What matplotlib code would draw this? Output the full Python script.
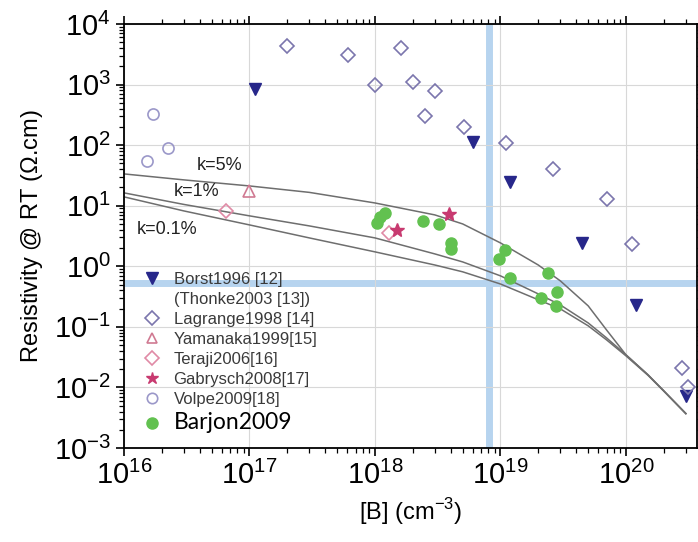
import numpy as np
import matplotlib
matplotlib.use('Agg')
import matplotlib.pyplot as plt
from matplotlib.lines import Line2D

plt.rcParams['font.family'] = ['Liberation Sans', 'DejaVu Sans']
plt.rcParams['mathtext.fontset'] = 'custom'
plt.rcParams['mathtext.rm'] = 'Liberation Sans'

# ── data ──────────────────────────────────────────────────────────
borst_x = [1.1e17, 6.0e18, 1.2e19, 4.5e19, 1.2e20, 3.0e20]
borst_y = [850, 113, 25, 2.4, 0.23, 0.0072]

lagrange_x = [2.0e17, 6.1e17, 1.0e18, 1.6e18, 2.0e18, 2.5e18, 3.0e18, 5.1e18,
              1.1e19, 2.6e19, 7.1e19, 1.12e20, 2.8e20, 3.1e20]
lagrange_y = [4400, 3100, 980, 4000, 1100, 300, 780, 200,
              109, 40, 13, 2.35, 0.021, 0.0102]

yamanaka_x = [9.9e16]
yamanaka_y = [17.5]

teraji_x = [6.5e16, 1.30e18]
teraji_y = [8.2, 3.5]

gabrysch_x = [1.51e18, 3.9e18]
gabrysch_y = [3.9, 7.3]

volpe_x = [1.52e16, 1.7e16, 2.24e16]
volpe_y = [55, 327, 90]

barjon_x = [1.03e18, 1.10e18, 1.20e18, 2.40e18, 3.25e18, 4.0e18, 4.0e18,
            1.09e19, 9.8e18, 1.19e19, 2.40e19, 2.81e19, 2.09e19, 2.75e19]
barjon_y = [5.1, 6.6, 7.7, 5.5, 4.95, 2.46, 1.91,
            1.87, 1.31, 0.64, 0.77, 0.38, 0.30, 0.22]

# model curves
curve_x = [1e16, 3e16, 1e17, 3e17, 1e18, 3e18, 5e18, 1e19, 2e19, 3e19,
           5e19, 7e19, 1e20, 1.5e20, 2e20, 3e20]
k5_y = [33.5, 26.7, 21.2, 16.6, 11.1, 7.05, 5.0, 2.43, 1.05, 0.574,
        0.222, 0.089, 0.0345, 0.0161, 0.00879, 0.0037]
k1_y = [16.3, 10.5, 6.8, 4.64, 2.94, 1.60, 1.18, 0.695, 0.35, 0.23,
        0.116, 0.0658, 0.0345, 0.0161, 0.00879, 0.0037]
k01_y = [14.0, 8.2, 4.82, 2.94, 1.73, 1.05, 0.81, 0.51, 0.28, 0.198,
         0.104, 0.061, 0.0332, 0.0158, 0.0087, 0.0037]

band_x = 8.1e18
band_y = 0.53

# ── figure ────────────────────────────────────────────────────────
fig = plt.figure(figsize=(6.98, 5.42), dpi=100)
ax = fig.add_axes([124 / 698, 94 / 542, 573 / 698, 424 / 542])
ax.set_xscale('log')
ax.set_yscale('log')
ax.set_xlim(1e16, 10 ** 20.566)
ax.set_ylim(1e-3, 1e4)

ax.grid(True, which='major', color='#d8d8d8', lw=0.8, zorder=0)
ax.axvline(band_x, color='#b7d4ef', lw=5, zorder=1)
ax.axhline(band_y, color='#b7d4ef', lw=5, zorder=1)

for cy in (k5_y, k1_y, k01_y):
    ax.plot(curve_x, cy, '-', color='#6e6e6e', lw=1.1, zorder=2)

ax.text(5.8e16, 47, 'k=5%', fontsize=13, ha='center', va='center', color='#222222')
ax.text(3.8e16, 16.9, 'k=1%', fontsize=13, ha='center', va='center', color='#222222')
ax.text(2.2e16, 4.1, 'k=0.1%', fontsize=13, ha='center', va='center', color='#222222')

ax.plot(borst_x, borst_y, 'v', color='#27278a', ms=8, ls='none', zorder=4)
ax.plot(lagrange_x, lagrange_y, 'D', mfc='none', mec='#7b76ad', mew=1.2, ms=7.5,
        ls='none', zorder=4)
ax.plot(yamanaka_x, yamanaka_y, '^', mfc='none', mec='#d07a92', mew=1.2, ms=8,
        ls='none', zorder=4)
ax.plot(teraji_x, teraji_y, 'D', mfc='none', mec='#e08aa6', mew=1.2, ms=7.5,
        ls='none', zorder=4)
ax.plot(gabrysch_x, gabrysch_y, '*', color='#c83a70', ms=10, ls='none', zorder=5)
ax.plot(volpe_x, volpe_y, 'o', mfc='none', mec='#9b98c9', mew=1.2, ms=8,
        ls='none', zorder=4)
ax.plot(barjon_x, barjon_y, 'o', color='#62c150', ms=8, ls='none', zorder=5)

# legend
handles = [
    Line2D([], [], marker='v', color='#27278a', ms=8, ls='none'),
    Line2D([], [], marker='', ls='none'),
    Line2D([], [], marker='D', mfc='none', mec='#7b76ad', mew=1.2, ms=7, ls='none'),
    Line2D([], [], marker='^', mfc='none', mec='#d07a92', mew=1.2, ms=7.5, ls='none'),
    Line2D([], [], marker='D', mfc='none', mec='#e08aa6', mew=1.2, ms=7, ls='none'),
    Line2D([], [], marker='*', color='#c83a70', ms=9, ls='none'),
    Line2D([], [], marker='o', mfc='none', mec='#9b98c9', mew=1.2, ms=7.5, ls='none'),
    Line2D([], [], marker='o', color='#62c150', ms=8, ls='none'),
]
labels = ['Borst1996 [12]', '(Thonke2003 [13])', 'Lagrange1998 [14]',
          'Yamanaka1999[15]', 'Teraji2006[16]', 'Gabrysch2008[17]',
          'Volpe2009[18]', 'Barjon2009']
leg = ax.legend(handles, labels, loc='upper left', bbox_to_anchor=(0.005, 0.442),
                frameon=False, fontsize=12, labelspacing=0.3,
                handletextpad=0.5, handlelength=1.6, borderaxespad=0.3)
for t in leg.get_texts()[:-1]:
    t.set_color('#3a3a3a')
leg.get_texts()[-1].set_family(['Lato', 'DejaVu Sans'])
leg.get_texts()[-1].set_fontsize(16.5)
leg.get_texts()[-1].set_color('black')

ax.tick_params(which='both', direction='out', labelsize=21, top=True, right=True)
ax.tick_params(which='major', length=6, width=1.2)
ax.tick_params(which='minor', length=3.5, width=0.9)
for s in ax.spines.values():
    s.set_linewidth(1.3)

ax.set_xlabel('[B] (cm$^{-3}$)', fontsize=17, labelpad=4)
ax.set_ylabel('Resistivity @ RT ($\\Omega$.cm)', fontsize=17, labelpad=6)

fig.savefig('out.png', dpi=100)
